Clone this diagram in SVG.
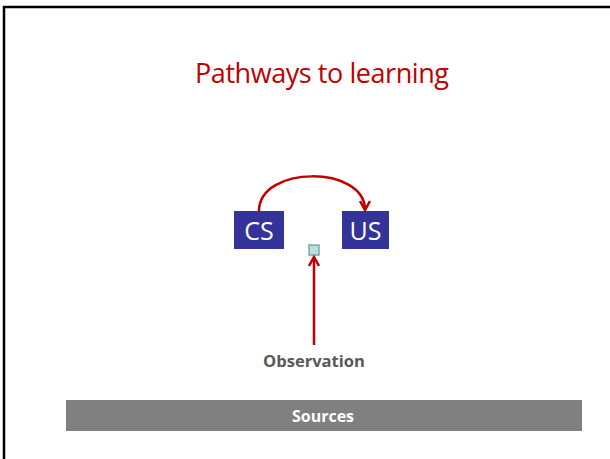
<svg xmlns="http://www.w3.org/2000/svg" width="610" height="459" viewBox="0 0 610 459">
<style>
.box{fill:#333399;}
.boxt{fill:#ffffff;font-family:"Open Sans","Liberation Sans",sans-serif;font-size:25px;text-anchor:middle;}
.conn{fill:none;stroke:#c00000;stroke-width:2.5;}
</style>
<defs>
<marker id="ah" viewBox="0 0 12 12" refX="10" refY="6" markerWidth="12" markerHeight="12" markerUnits="userSpaceOnUse" orient="auto">
<path d="M1,1 L10,6 L1,11" fill="none" stroke="#c00000" stroke-width="2.5"/>
</marker>
</defs>
<rect width="610" height="459" fill="#ffffff"/>
<path d="M4,459 V7 H610" fill="none" stroke="#000000" stroke-width="2.5"/>
<text x="322" y="83" fill="#c00000" font-family="'Open Sans','Liberation Sans',sans-serif" font-size="27" text-anchor="middle" textLength="254">Pathways to learning</text>
<g id="cs"><rect class="box" x="234" y="211" width="50" height="38"/><text class="boxt" x="259" y="240">CS</text></g>
<g id="us"><rect class="box" x="342" y="211" width="47" height="38"/><text class="boxt" x="365.5" y="240">US</text></g>
<g id="node-small"><rect x="309" y="245" width="10" height="10" fill="#b7e0e0" stroke="#7fa7a7" stroke-width="1.5"/></g>
<g id="connectors">
<path class="conn" d="M259,211 C259,165 365,165 365,210" marker-end="url(#ah)"/>
<path class="conn" d="M314,345 V257" marker-end="url(#ah)"/>
</g>
<g id="observation"><text x="314" y="367" fill="#595959" font-family="'Open Sans','Liberation Sans',sans-serif" font-size="16" font-weight="bold" text-anchor="middle" textLength="102" lengthAdjust="spacingAndGlyphs">Observation</text></g>
<g id="sources"><rect x="66" y="400" width="516" height="31" fill="#808080"/><text x="323" y="422" fill="#ffffff" font-family="'Open Sans','Liberation Sans',sans-serif" font-size="16" font-weight="bold" text-anchor="middle">Sources</text></g>
</svg>
